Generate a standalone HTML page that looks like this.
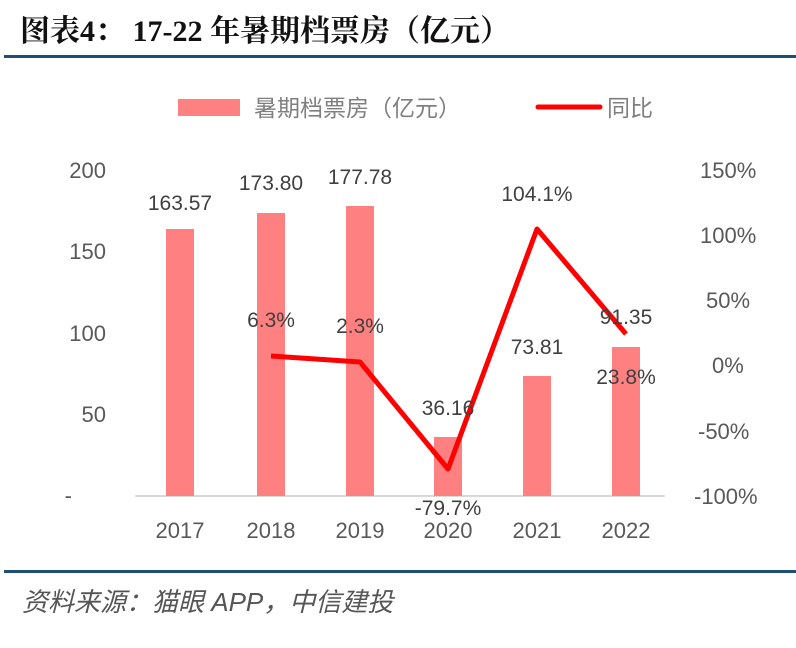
<!DOCTYPE html><html><head><meta charset="utf-8"><style>body{margin:0;background:#fff}</style></head><body>
<svg width="796" height="643" xmlns="http://www.w3.org/2000/svg" font-family="'Liberation Sans','Noto Sans CJK SC',sans-serif">
<text x="20" y="41" font-size="30" font-weight="bold" fill="#111" font-family="'Liberation Serif','Noto Serif CJK SC',serif">图表4： 17-22 年暑期档票房（亿元）</text>
<rect x="4" y="55" width="792" height="3" fill="#1f4e79"/>
<rect x="178" y="99" width="62" height="17" fill="#ff8080"/>
<text x="254" y="116" font-size="23" fill="#7f7f7f">暑期档票房（亿元）</text>
<line x1="538" y1="107" x2="600" y2="107" stroke="#f00" stroke-width="5" stroke-linecap="round"/>
<text x="607" y="116" font-size="23" fill="#7f7f7f">同比</text>
<g font-size="22" fill="#595959" text-anchor="end">
<text x="106" y="178">200</text><text x="106" y="259">150</text><text x="106" y="341">100</text><text x="106" y="422">50</text><text x="72" y="503">-</text></g>
<g font-size="22" fill="#595959" text-anchor="start">
<text x="700" y="178">150%</text><text x="700" y="243">100%</text><text x="706" y="308">50%</text><text x="712" y="373">0%</text><text x="698" y="439">-50%</text><text x="694" y="504">-100%</text></g>
<line x1="135" y1="496" x2="665" y2="496" stroke="#d9d9d9" stroke-width="2"/>
<g fill="#ff8080">
<rect x="166" y="229" width="28" height="267"/><rect x="257" y="213" width="28" height="283"/><rect x="346" y="206" width="28" height="290"/><rect x="434" y="437" width="28" height="59"/><rect x="523" y="376" width="28" height="120"/><rect x="612" y="347" width="28" height="149"/></g>
<polyline points="271,356 360,362 448,469 537,229 626,334" fill="none" stroke="#f00" stroke-width="5" stroke-linejoin="round"/>
<g font-size="21" fill="#404040" text-anchor="middle">
<text x="180" y="210">163.57</text><text x="271" y="190">173.80</text><text x="360" y="184">177.78</text><text x="448" y="415">36.16</text><text x="537" y="354">73.81</text><text x="626" y="324">91.35</text>
<text x="271" y="327">6.3%</text><text x="360" y="333">2.3%</text><text x="448" y="515">-79.7%</text><text x="537" y="201">104.1%</text><text x="626" y="384">23.8%</text></g>
<g font-size="22" fill="#595959" text-anchor="middle">
<text x="180" y="538">2017</text><text x="271" y="538">2018</text><text x="360" y="538">2019</text><text x="448" y="538">2020</text><text x="537" y="538">2021</text><text x="626" y="538">2022</text></g>
<rect x="4" y="570" width="792" height="3" fill="#1f4e79"/>
<text x="22" y="611" font-size="26" font-style="italic" fill="#555">资料来源：猫眼 APP，中信建投</text>
</svg></body></html>
